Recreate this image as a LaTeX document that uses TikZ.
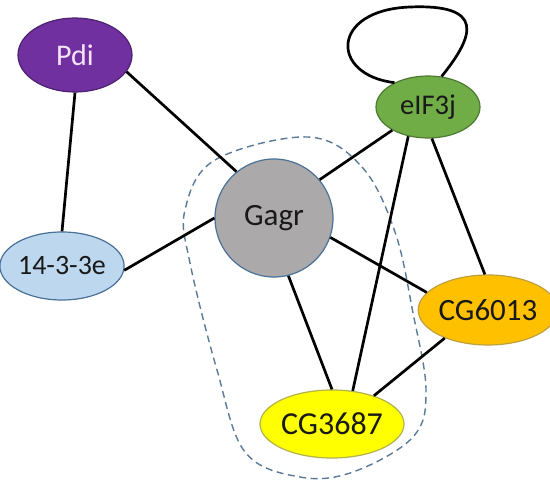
\documentclass[tikz,border=0pt]{standalone}
\usepackage{fontspec}
\setmainfont{Carlito}
\definecolor{pdicol}{HTML}{7030A0}
\definecolor{pditext}{HTML}{F6E3F7}
\definecolor{bluecol}{HTML}{BDD7EE}
\definecolor{graycol}{HTML}{ABA9AA}
\definecolor{greencol}{HTML}{70AD47}
\definecolor{orangecol}{HTML}{FFC000}
\definecolor{yellowcol}{HTML}{FFFF00}
\definecolor{bordercol}{HTML}{4A7198}
\definecolor{dashcol}{HTML}{5A7A98}
\begin{document}
\begin{tikzpicture}[x=1pt,y=-1pt,
  protein/.style={ellipse,draw=bordercol,line width=1.2pt,inner sep=0pt,text=black!90},
  link/.style={line width=2.7pt,black},
  group/.style={dashcol,line width=1.4pt,dash pattern=on 7pt off 4.5pt}]
\usetikzlibrary{shapes.geometric}
\useasboundingbox (0,0) rectangle (550,484);
% dashed group
\draw[group] plot[smooth cycle,tension=0.6] coordinates {(308,137) (362,167) (395,232) (413,313) (426,390) (413,437) (353,472) (300,477) (245,452) (217,370) (190,263) (185,210) (215,160)};
% nodes
\node[protein,fill=pdicol,draw=pdicol!70!black,minimum width=114pt,minimum height=74pt,text=pditext,font=\fontsize{30}{36}\selectfont] (pdi) at (75,55) {Pdi};
\node[protein,fill=bluecol,minimum width=112pt,minimum height=68pt,font=\fontsize{28}{34}\selectfont] (ywha) at (62,266) {14-3-3e};
\node[circle,draw=bordercol,line width=1.2pt,inner sep=0pt,fill=graycol,minimum size=118pt,text=black!90,font=\fontsize{31}{37}\selectfont] (gagr) at (274,218) {Gagr};
\node[protein,fill=greencol,draw=greencol!70!black,minimum width=104pt,minimum height=62pt,font=\fontsize{28.5}{34}\selectfont] (eif) at (428,107) {eIF3j};
\node[protein,fill=orangecol,draw=orangecol!50!gray,minimum width=112pt,minimum height=70pt,font=\fontsize{31}{37}\selectfont] (cgsix) at (488,310) {CG6013};
\node[protein,fill=yellowcol,draw=yellowcol!40!gray,minimum width=114pt,minimum height=68pt,font=\fontsize{32}{38}\selectfont] (cgthree) at (332,424) {CG3687};
% edges
\draw[link] (pdi.-90) -- (ywha.90);
\draw[link] (pdi.-18) -- (gagr.129);
\draw[link] (ywha.-4) -- (gagr.180);
\draw[link] (gagr.40.5) -- (eif.213.7);
\draw[link] (gagr.-19.6) -- (cgsix.164);
\draw[link] (gagr.-76.7) -- (cgthree.90);
\draw[link] (eif.236) -- (cgthree.58.8);
\draw[link] (eif.-83) -- (cgsix.95);
\draw[link] (cgsix.213) -- (cgthree.34);
\draw[link] (eif.144) .. controls (330,75) and (330,10) .. (410,7) .. controls (485,4) and (475,35) .. (eif.66);
\end{tikzpicture}
\end{document}
